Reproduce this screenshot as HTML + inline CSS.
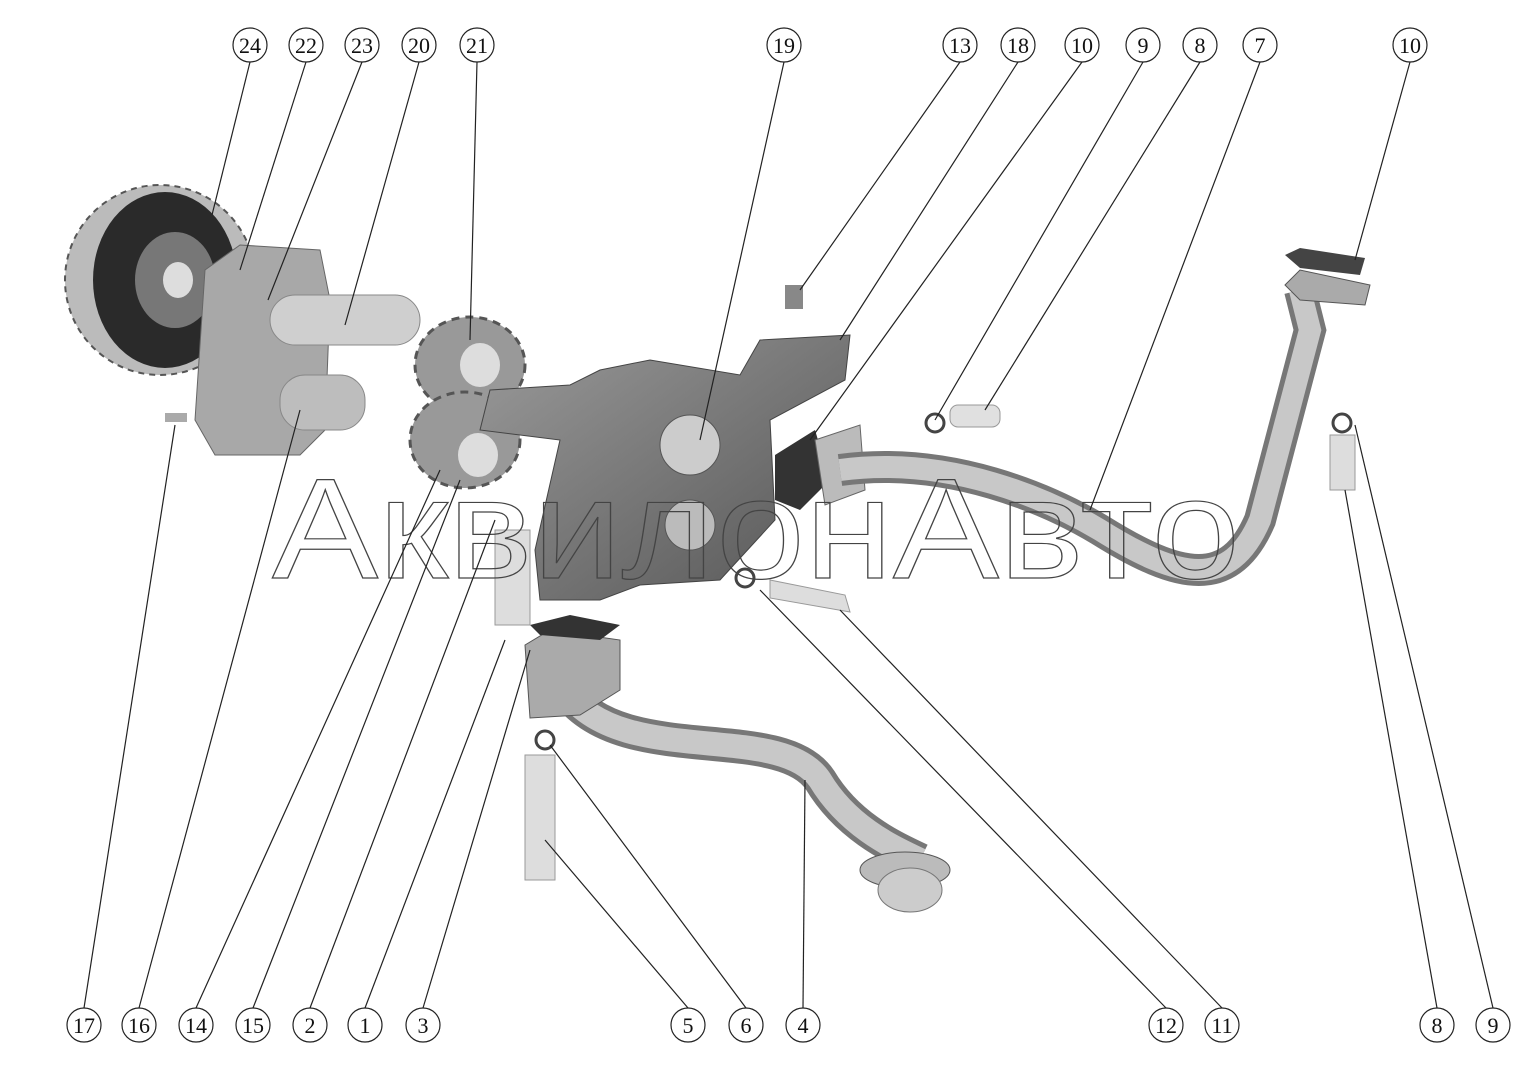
<!DOCTYPE html>
<html><head><meta charset="utf-8"><style>html,body{margin:0;padding:0;background:#fff}svg{display:block}</style></head>
<body>
<svg width="1530" height="1071" viewBox="0 0 1530 1071" xmlns="http://www.w3.org/2000/svg">
<defs>
<linearGradient id="body" x1="0" y1="0" x2="1" y2="1"><stop offset="0" stop-color="#9a9a9a"/><stop offset="1" stop-color="#555"/></linearGradient>
</defs>
<circle cx="160" cy="280" r="95" fill="#bbb" stroke="#555" stroke-width="2" stroke-dasharray="6 5"/>
<ellipse cx="165" cy="280" rx="72" ry="88" fill="#2a2a2a"/>
<ellipse cx="175" cy="280" rx="40" ry="48" fill="#777"/>
<ellipse cx="178" cy="280" rx="15" ry="18" fill="#ddd"/>
<path d="M205 270 L240 245 L320 250 L330 300 L325 430 L300 455 L215 455 L195 420 Z" fill="#a8a8a8" stroke="#666"/>
<rect x="270" y="295" width="150" height="50" rx="25" fill="#cfcfcf" stroke="#888"/>
<rect x="280" y="375" width="85" height="55" rx="25" fill="#bdbdbd" stroke="#888"/>
<rect x="165" y="413" width="22" height="9" fill="#aaa"/>
<ellipse cx="470" cy="365" rx="55" ry="48" fill="#999" stroke="#555" stroke-dasharray="8 6" stroke-width="3"/>
<ellipse cx="465" cy="440" rx="55" ry="48" fill="#999" stroke="#555" stroke-dasharray="8 6" stroke-width="3"/>
<ellipse cx="480" cy="365" rx="20" ry="22" fill="#ddd"/><ellipse cx="478" cy="455" rx="20" ry="22" fill="#ddd"/>
<path d="M490 390 L570 385 L600 370 L650 360 L740 375 L760 340 L850 335 L845 380 L770 420 L775 520 L720 580 L640 585 L600 600 L540 600 L535 550 L560 440 L480 430 Z" fill="url(#body)" stroke="#444"/>
<circle cx="690" cy="445" r="30" fill="#ccc" stroke="#555"/>
<circle cx="690" cy="525" r="25" fill="#bbb" stroke="#555"/>
<rect x="785" y="285" width="18" height="24" fill="#888"/>
<path d="M775 455 L815 430 L830 480 L800 510 L775 500 Z" fill="#333"/>
<path d="M815 440 L860 425 L865 490 L825 505 Z" fill="#bbb" stroke="#666"/>
<path d="M840 470 C950 455,1050 500,1100 530 C1180 580,1230 590,1260 520 L1310 330 L1300 290" fill="none" stroke="#777" stroke-width="32"/>
<path d="M840 470 C950 455,1050 500,1100 530 C1180 580,1230 590,1260 520 L1310 330 L1300 290" fill="none" stroke="#c8c8c8" stroke-width="22"/>
<path d="M1285 285 L1300 270 L1370 285 L1365 305 L1300 300 Z" fill="#aaa" stroke="#555"/>
<path d="M1285 255 L1300 248 L1365 258 L1360 275 L1300 268 Z" fill="#444"/>
<rect x="950" y="405" width="50" height="22" rx="8" fill="#e0e0e0" stroke="#999"/>
<circle cx="935" cy="423" r="9" fill="none" stroke="#444" stroke-width="3"/>
<circle cx="1342" cy="423" r="9" fill="none" stroke="#444" stroke-width="3"/>
<rect x="1330" y="435" width="25" height="55" fill="#ddd" stroke="#999"/>
<path d="M565 690 C620 770,780 720,820 780 C850 830,900 850,920 860" fill="none" stroke="#777" stroke-width="34"/>
<path d="M565 690 C620 770,780 720,820 780 C850 830,900 850,920 860" fill="none" stroke="#c8c8c8" stroke-width="24"/>
<path d="M525 645 L550 630 L620 640 L620 690 L580 715 L530 718 Z" fill="#aaa" stroke="#555"/>
<path d="M530 625 L570 615 L620 625 L600 640 L540 635 Z" fill="#333"/>
<ellipse cx="905" cy="870" rx="45" ry="18" fill="#bbb" stroke="#555"/>
<ellipse cx="910" cy="890" rx="32" ry="22" fill="#ccc" stroke="#777"/>
<rect x="495" y="530" width="35" height="95" fill="#ddd" stroke="#999"/>
<rect x="525" y="755" width="30" height="125" fill="#ddd" stroke="#999"/>
<circle cx="545" cy="740" r="9" fill="none" stroke="#444" stroke-width="3"/>
<circle cx="745" cy="578" r="9" fill="none" stroke="#444" stroke-width="3"/>
<path d="M770 580 L845 595 L850 612 L770 598 Z" fill="#ddd" stroke="#999"/>
<text x="272" y="578" font-family="Liberation Sans, sans-serif" font-size="143" fill="none" stroke="#444" stroke-width="1.2" textLength="968" lengthAdjust="spacingAndGlyphs">АквилонАвто</text>
<g stroke="#222" stroke-width="1.2" fill="none">
<line x1="250" y1="62" x2="212" y2="215"/><line x1="306" y1="62" x2="240" y2="270"/><line x1="362" y1="62" x2="268" y2="300"/><line x1="419" y1="62" x2="345" y2="325"/><line x1="477" y1="62" x2="470" y2="340"/><line x1="784" y1="62" x2="700" y2="440"/><line x1="960" y1="62" x2="800" y2="290"/><line x1="1018" y1="62" x2="840" y2="340"/><line x1="1082" y1="62" x2="810" y2="440"/><line x1="1143" y1="62" x2="935" y2="420"/><line x1="1200" y1="62" x2="985" y2="410"/><line x1="1260" y1="62" x2="1090" y2="510"/><line x1="1410" y1="62" x2="1355" y2="260"/>
<line x1="84" y1="1008" x2="175" y2="425"/><line x1="139" y1="1008" x2="300" y2="410"/><line x1="196" y1="1008" x2="440" y2="470"/><line x1="253" y1="1008" x2="460" y2="480"/><line x1="310" y1="1008" x2="495" y2="520"/><line x1="365" y1="1008" x2="505" y2="640"/><line x1="423" y1="1008" x2="530" y2="650"/><line x1="688" y1="1008" x2="545" y2="840"/><line x1="746" y1="1008" x2="550" y2="745"/><line x1="803" y1="1008" x2="805" y2="780"/><line x1="1166" y1="1008" x2="760" y2="590"/><line x1="1222" y1="1008" x2="840" y2="610"/><line x1="1437" y1="1008" x2="1345" y2="490"/><line x1="1493" y1="1008" x2="1355" y2="425"/>
</g>
<g font-family="Liberation Serif, serif" font-size="22" text-anchor="middle" fill="#111">
<g fill="#fff" stroke="#222" stroke-width="1.2">
<circle cx="250" cy="45" r="17"/><circle cx="306" cy="45" r="17"/><circle cx="362" cy="45" r="17"/><circle cx="419" cy="45" r="17"/><circle cx="477" cy="45" r="17"/><circle cx="784" cy="45" r="17"/><circle cx="960" cy="45" r="17"/><circle cx="1018" cy="45" r="17"/><circle cx="1082" cy="45" r="17"/><circle cx="1143" cy="45" r="17"/><circle cx="1200" cy="45" r="17"/><circle cx="1260" cy="45" r="17"/><circle cx="1410" cy="45" r="17"/>
<circle cx="84" cy="1025" r="17"/><circle cx="139" cy="1025" r="17"/><circle cx="196" cy="1025" r="17"/><circle cx="253" cy="1025" r="17"/><circle cx="310" cy="1025" r="17"/><circle cx="365" cy="1025" r="17"/><circle cx="423" cy="1025" r="17"/><circle cx="688" cy="1025" r="17"/><circle cx="746" cy="1025" r="17"/><circle cx="803" cy="1025" r="17"/><circle cx="1166" cy="1025" r="17"/><circle cx="1222" cy="1025" r="17"/><circle cx="1437" cy="1025" r="17"/><circle cx="1493" cy="1025" r="17"/>
</g>
<text x="250" y="53">24</text><text x="306" y="53">22</text><text x="362" y="53">23</text><text x="419" y="53">20</text><text x="477" y="53">21</text><text x="784" y="53">19</text><text x="960" y="53">13</text><text x="1018" y="53">18</text><text x="1082" y="53">10</text><text x="1143" y="53">9</text><text x="1200" y="53">8</text><text x="1260" y="53">7</text><text x="1410" y="53">10</text>
<text x="84" y="1033">17</text><text x="139" y="1033">16</text><text x="196" y="1033">14</text><text x="253" y="1033">15</text><text x="310" y="1033">2</text><text x="365" y="1033">1</text><text x="423" y="1033">3</text><text x="688" y="1033">5</text><text x="746" y="1033">6</text><text x="803" y="1033">4</text><text x="1166" y="1033">12</text><text x="1222" y="1033">11</text><text x="1437" y="1033">8</text><text x="1493" y="1033">9</text>
</g>
</svg>
</body></html>
